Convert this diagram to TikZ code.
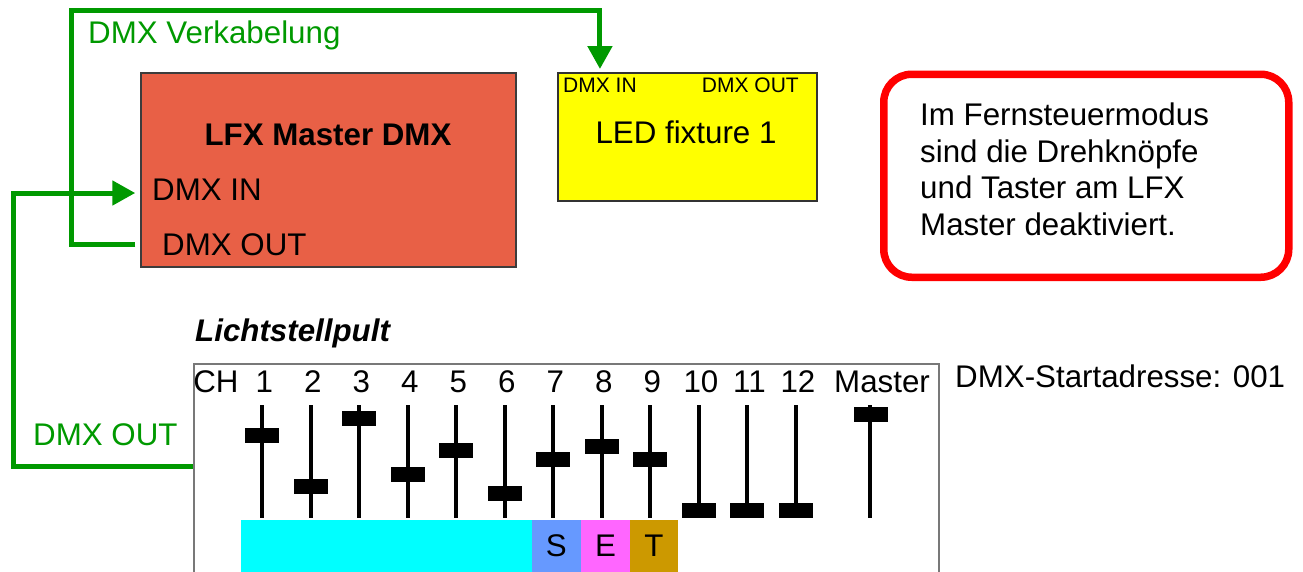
\documentclass[tikz,border=0pt]{standalone}
\usepackage{fontspec}
\setmainfont{Liberation Sans}
\usetikzlibrary{arrows.meta}
\definecolor{wirecol}{RGB}{0,153,0}
\definecolor{lfxred}{RGB}{232,96,70}
\definecolor{sblue}{RGB}{102,153,255}
\definecolor{emag}{RGB}{255,102,255}
\definecolor{tgold}{RGB}{204,153,0}
\definecolor{barcyan}{RGB}{0,255,255}
\definecolor{ledyellow}{RGB}{255,255,0}
\definecolor{notered}{RGB}{255,0,0}
\begin{document}
\begin{tikzpicture}[x=1pt,y=-1pt,
  big/.style={font=\fontsize{31.3}{36.7}\selectfont},
  small/.style={font=\fontsize{21}{24}\selectfont},
  lbl/.style={inner sep=0pt, anchor=base west, big},
  clbl/.style={inner sep=0pt, anchor=base, big},
  wireline/.style={draw=wirecol, line width=5pt},
  tipped/.style={-{Triangle[length=23pt,width=24pt]}},
  faderline/.style={line width=4pt},
  knob/.style={fill=black, minimum width=34pt, minimum height=15pt, inner sep=0pt},
  bar/.style={anchor=north west, minimum height=52pt, inner sep=0pt, big}
]
\useasboundingbox (0,0) rectangle (1303,571);
\clip (0,0) rectangle (1303,571);

% LFX master box
\node[draw={rgb,255:red,60;green,60;blue,60}, line width=1.5pt, fill=lfxred,
      minimum width=375pt, minimum height=194pt, inner sep=0pt] (lfx) at (328.5,170) {};
\node[inner sep=0pt, anchor=base, big, font=\fontsize{31.3}{36.7}\selectfont\bfseries] (lfxtitle) at (328,145) {LFX Master DMX};
\node[lbl] (lfxin) at (152,200) {DMX IN};
\node[lbl] (lfxout) at (162,255) {DMX OUT};

% LED fixture
\node[draw={rgb,255:red,50;green,50;blue,50}, line width=1.5pt, fill=ledyellow,
      minimum width=259pt, minimum height=128pt, inner sep=0pt, anchor=north west] (led) at (557,72) {};
\node[inner sep=0pt, anchor=base west, small] (fin) at (563,92) {DMX IN};
\node[inner sep=0pt, anchor=base east, small] (fout) at (799,92) {DMX OUT};
\node[clbl] (ledname) at (686,143) {LED fixture 1};

% note box
\node[draw=notered, line width=7.5pt, rounded corners=28pt, minimum width=405pt, minimum height=203pt,
      inner sep=0pt, anchor=north west] (note) at (880,70.5) {};
\node[inner sep=0pt, anchor=north west, align=left, big] (notetext) at (920,102.5)
  {Im Fernsteuermodus\\sind die Drehknöpfe\\und Taster am LFX\\Master deaktiviert.};

% console
\node[inner sep=0pt, anchor=base west, big, font=\fontsize{31.3}{36.7}\selectfont\bfseries\itshape] (pulttitle) at (195,341) {Lichtstellpult};
\node[draw={rgb,255:red,120;green,120;blue,120}, line width=2pt, minimum width=745pt, minimum height=220pt,
      inner sep=0pt, anchor=north west] (pult) at (193,363) {};
\node[lbl] (start) at (955,387) {DMX-Startadresse: 001};
\node[clbl] (chlbl) at (216,392) {CH};

\foreach \i/\ky in {1/435,2/486,3/418,4/474,5/450,6/493,7/459,8/446,9/459,10/510.5,11/510.5,12/510.5}{
  \pgfmathsetmacro{\fx}{262.4+48.5*(\i-1)}
  \node[clbl] (n\i) at (\fx+2,392) {\i};
  \draw[faderline] (\fx,405) -- (\fx,518);
  \node[knob] (k\i) at (\fx,\ky) {};
}
\node[clbl] (nmaster) at (882,392) {Master};
\draw[faderline] (870.3,405) -- (870.3,518);
\node[knob] (kmaster) at (871,414) {};

% colour bars
\node[bar, fill=barcyan, minimum width=290.8pt] (bcyan) at (240.6,520) {};
\node[bar, fill=sblue, minimum width=49.5pt] (bs) at (531.4,520) {S};
\node[bar, fill=emag, minimum width=48.9pt] (be) at (580.9,520) {E};
\node[bar, fill=tgold, minimum width=48pt] (bt) at (629.8,520) {T};

% wiring
\coordinate (bendA1) at (71,244);
\coordinate (bendA2) at (71,10);
\coordinate (bendB1) at (13,466);
\coordinate (bendB2) at (13,193);
\draw[wireline, tipped, shorten <=5pt, shorten >=3pt]
  (lfx.west |- bendA1) -- (bendA1) -- (bendA2) -| (fin.north |- led.north);
\draw[wireline, tipped, shorten >=5pt]
  (pult.west |- bendB1) -- (bendB1) -- (bendB2) -- (lfx.west |- bendB2);
\node[lbl, text=wirecol] (wlabel) at (88,43) {DMX Verkabelung};
\node[lbl, text=wirecol] (olabel) at (33,445) {DMX OUT};
\end{tikzpicture}
\end{document}
